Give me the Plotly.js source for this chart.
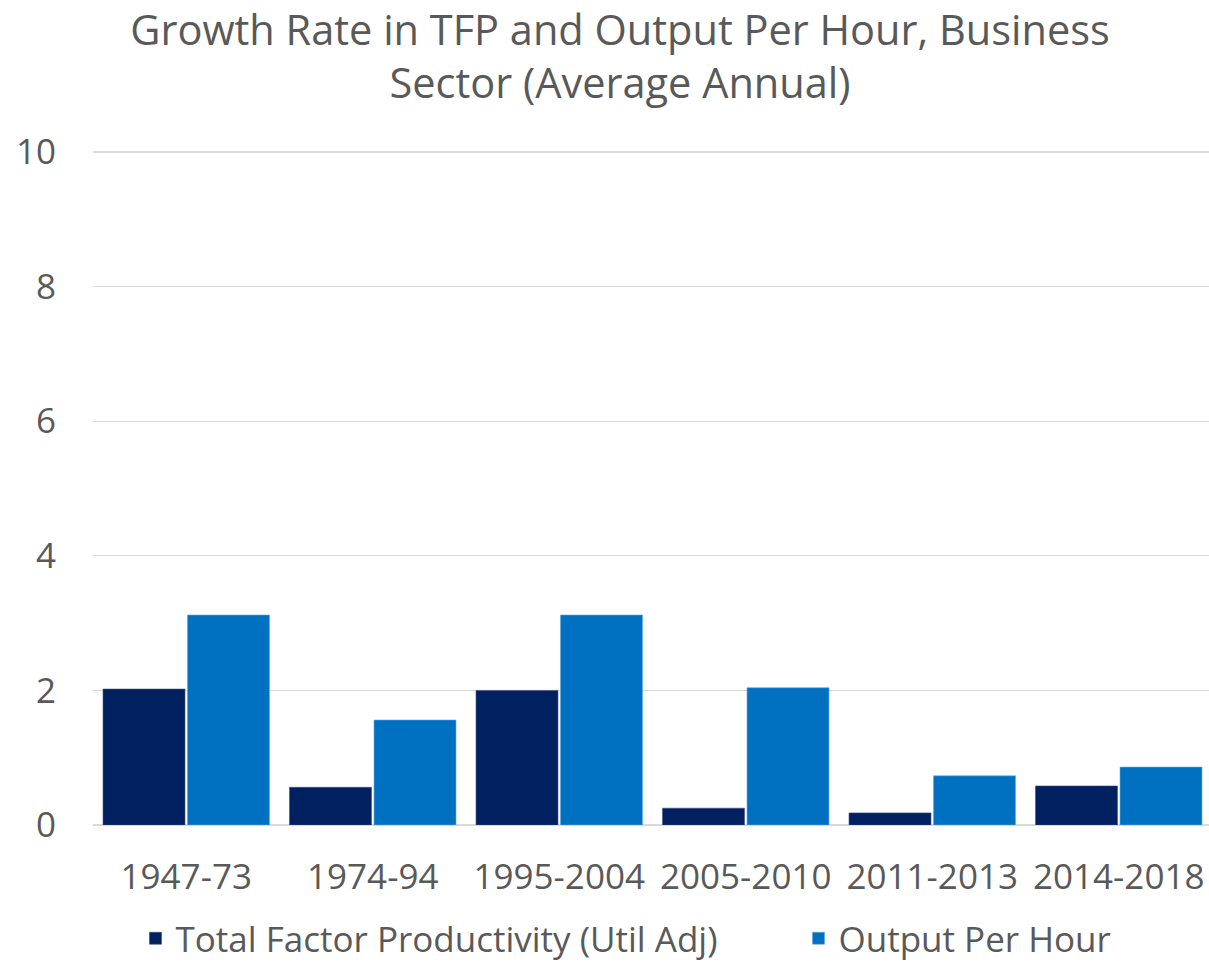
<!DOCTYPE html>
<html>
<head>
<meta charset="utf-8">
<script src="https://cdn.plot.ly/plotly-3.0.1.min.js"></script>
<style>
html,body{margin:0;padding:0;overflow:hidden;background:#fff;}
#chart{width:1212px;height:968px;}
</style>
</head>
<body>
<div id="chart"></div>
<script>
const categories = ["1947-73", "1974-94", "1995-2004", "2005-2010", "2011-2013", "2014-2018"];
const tfpValues = [2.02, 0.56, 2.00, 0.25, 0.18, 0.58];
const ophValues = [3.12, 1.56, 3.12, 2.04, 0.73, 0.86];
const yTickValues = [0, 2, 4, 6, 8, 10];
const seriesNames = ["Total Factor Productivity (Util Adj)", "Output Per Hour"];
const titleText = "Growth Rate in TFP and Output Per Hour, Business<br>Sector (Average Annual)";

const font = "'Open Sans', 'Noto Sans', sans-serif";
const grey = "#595959";

const traces = [
  {type: "bar", name: seriesNames[0], x: categories, y: tfpValues, legendwidth: 618,
   marker: {color: "#002060", line: {color: "#3a4f82", width: 0.6}}, hoverinfo: "x+y"},
  {type: "bar", name: seriesNames[1], x: categories, y: ophValues,
   marker: {color: "#0070c0", line: {color: "#5ea6dd", width: 0.6}}, hoverinfo: "x+y"}
];

const layout = {
  width: 1212, height: 968,
  margin: {l: 93, r: 0, t: 151, b: 143, pad: 0},
  paper_bgcolor: "#ffffff", plot_bgcolor: "#ffffff",
  font: {family: font, color: grey, size: 35},
  title: {text: titleText, font: {family: font, size: 41.5, color: grey},
          x: 0.5116, xref: "container", xanchor: "center",
          y: 0.954, yref: "container", yanchor: "top"},
  barmode: "group", bargap: 0.094, bargroupgap: 0.03,
  showlegend: true,
  legend: {orientation: "h", x: 0.5165, xanchor: "center", xref: "container",
           y: 0, yanchor: "bottom", yref: "container",
           font: {family: font, size: 35, color: grey}, traceorder: "normal"},
  xaxis: {type: "category", showgrid: false, zeroline: false, showline: false,
          ticks: "", tickfont: {family: font, size: 35, color: grey}, ticklabelstandoff: 28},
  yaxis: {range: [0, 10.015], tickvals: yTickValues, ticktext: yTickValues.map(String),
          showgrid: true, gridcolor: "#d9d9d9", gridwidth: 1.3,
          zeroline: true, zerolinecolor: "#d9d9d9", zerolinewidth: 1.3,
          showline: false, ticks: "",
          tickfont: {family: font, size: 35, color: grey}, ticklabelstandoff: 36}
};

Plotly.newPlot("chart", traces, layout, {displayModeBar: false, staticPlot: true});
</script>
</body>
</html>
